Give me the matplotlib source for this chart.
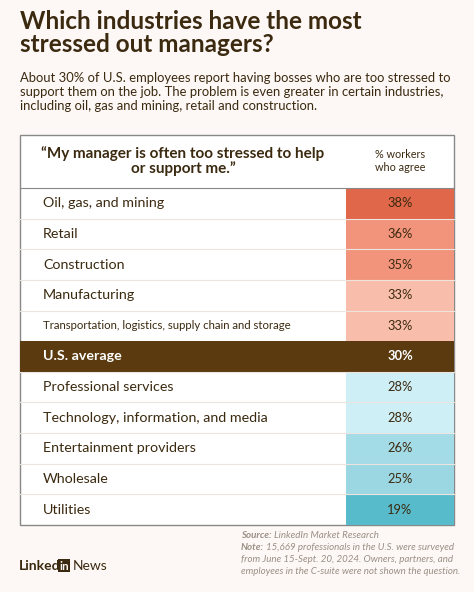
import matplotlib
matplotlib.use("Agg")
import matplotlib.pyplot as plt
from matplotlib.patches import Rectangle

categories = ["Oil, gas, and mining", "Retail", "Construction", "Manufacturing",
              "Transportation, logistics, supply chain and storage", "U.S. average",
              "Professional services", "Technology, information, and media",
              "Entertainment providers", "Wholesale", "Utilities"]
values = [38, 36, 35, 33, 33, 30, 28, 28, 26, 25, 19]
cell_colors = ["#E0674A", "#F2947C", "#F2947C", "#F9BDAB", "#F9BDAB", "#5A3A0E",
               "#CDEFF5", "#CDEFF5", "#A3DCE7", "#9AD7E3", "#58BBCC"]

BG = "#FDF8F5"
BROWN = "#3B2A10"
W, H = 474, 592
fig = plt.figure(figsize=(W/100, H/100), dpi=100, facecolor=BG)
ax = fig.add_axes([0, 0, 1, 1])
ax.set_xlim(0, W); ax.set_ylim(H, 0); ax.axis("off")

ax.text(20, 10, "Which industries have the most\nstressed out managers?", fontsize=17.5,
        fontweight="bold", color=BROWN, va="top", family="Lato", linespacing=1.0)
ax.text(20, 72, "About 30% of U.S. employees report having bosses who are too stressed to\n"
        "support them on the job. The problem is even greater in certain industries,\n"
        "including oil, gas and mining, retail and construction.", fontsize=9.4,
        color=BROWN, va="top", family="Lato", linespacing=1.2)

left, right, vx = 20, 454, 346
top, head_b = 135, 188
row_h = (525 - head_b) / len(categories)
ax.add_patch(Rectangle((left, top), right-left, 525-top, facecolor="white", edgecolor="#888888", lw=1, zorder=1))
ax.text((left+vx)/2, 161, "\u201cMy manager is often too stressed to help\nor support me.\u201d", ha="center",
        va="center", fontsize=11, fontweight="bold", color=BROWN, family="Lato", linespacing=1.05)
ax.text(400, 161, "% workers\nwho agree", ha="center", va="center", fontsize=7.8, color=BROWN, family="Lato")
ax.plot([left, right], [head_b, head_b], color="#888888", lw=0.8, zorder=3)

ys = [head_b + i*row_h for i in range(len(categories))]
ax.barh([y + row_h/2 for y in ys], [right-vx]*len(ys), height=row_h, left=vx, color=cell_colors, zorder=2)
for i, (c, v, y) in enumerate(zip(categories, values, ys)):
    avg = c == "U.S. average"
    if avg:
        ax.add_patch(Rectangle((left, y), right-left, row_h, facecolor=cell_colors[i], zorder=2))
    elif i > 0:
        ax.plot([left, right], [y, y], color="#ECE4DE", lw=0.8, zorder=3)
    col = "white" if avg else BROWN
    fs = 8.2 if c.startswith("Transportation") else 10.3
    ax.text(43, y + row_h/2, c, va="center", fontsize=fs, color=col, family="Lato",
            fontweight="bold" if avg else "normal", zorder=4)
    ax.text(400, y + row_h/2, f"{v}%", va="center", ha="center", fontsize=9.3, color=col,
            family="Lato", fontweight="bold" if avg else "normal", zorder=4)

g = "#9A8F86"
ax.text(241, 536, "Source:", fontsize=7, color=g, style="italic", fontweight="bold", family="Lato", va="center")
ax.text(274, 536, "LinkedIn Market Research", fontsize=7, color=g, style="italic", family="Lato", va="center")
ax.text(241, 548, "Note:", fontsize=7, color=g, style="italic", fontweight="bold", family="Lato", va="center")
ax.text(266, 548, "15,669 professionals in the U.S. were surveyed", fontsize=7, color=g, style="italic", family="Lato", va="center")
ax.text(241, 560, "from June 15-Sept. 20, 2024. Owners, partners, and", fontsize=7, color=g, style="italic", family="Lato", va="center")
ax.text(241, 572, "employees in the C-suite were not shown the question.", fontsize=7, color=g, style="italic", family="Lato", va="center")

ax.text(19, 566, "Linked", fontsize=10, fontweight="bold", color=BROWN, family="Lato", va="center")
ax.add_patch(Rectangle((58, 559), 12, 13, facecolor=BROWN, zorder=3))
ax.text(64, 566, "in", fontsize=8.5, fontweight="bold", color=BG, family="Lato", va="center", ha="center", zorder=4)
ax.text(73, 566, "News", fontsize=10, color=BROWN, family="Lato", va="center")

fig.savefig("out.png", dpi=100, facecolor=BG)
